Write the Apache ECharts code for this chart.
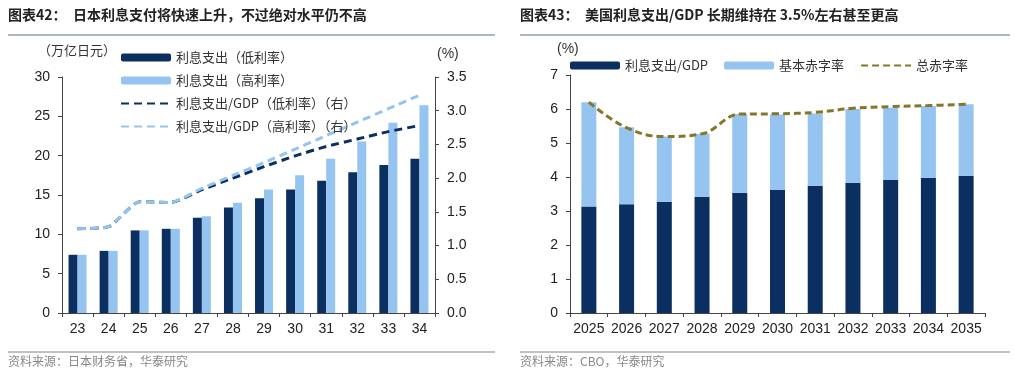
<!DOCTYPE html>
<html><head><meta charset="utf-8">
<script src="https://cdn.jsdelivr.net/npm/echarts@6/dist/echarts.min.js"></script>
<style>html,body{margin:0;padding:0;background:#fff}#c{width:1024px;height:374px}</style>
</head><body><div id="c"></div>
<script>
// Left chart data (Japan)
const jpYears = ['23','24','25','26','27','28','29','30','31','32','33','34'];
const jpLow = [7.4,7.9,10.5,10.7,12.1,13.4,14.6,15.7,16.8,17.9,18.8,19.6];
const jpHigh = [7.4,7.9,10.5,10.7,12.3,14.0,15.7,17.5,19.6,21.8,24.2,26.4];
const jpLowGdp = [1.25,1.28,1.65,1.64,1.83,2.0,2.17,2.33,2.47,2.58,2.69,2.78];
const jpHighGdp = [1.25,1.28,1.65,1.64,1.85,2.04,2.23,2.43,2.63,2.83,3.03,3.23];
// Right chart data (US)
const usYears = ['2025','2026','2027','2028','2029','2030','2031','2032','2033','2034','2035'];
const usInterest = [3.13,3.2,3.27,3.42,3.54,3.62,3.74,3.83,3.91,3.98,4.04];
const usPrimary = [3.07,2.26,1.92,1.85,2.31,2.22,2.13,2.17,2.13,2.11,2.10];
const usTotal = [6.2,5.45,5.19,5.27,5.85,5.86,5.9,6.02,6.07,6.1,6.14];

const DARK = '#0b2f60', LIGHT = '#95c4f1', OLIVE = '#86762a';
const AX = '#444', LAB = '#222';
const CJK = '"Noto Sans CJK SC", sans-serif';
const NUM = '"Liberation Sans", Arial, sans-serif';

const chart = echarts.init(document.getElementById('c'), null, {renderer:'canvas'});
const axisCommon = {
  axisLine:{show:true,lineStyle:{color:AX,width:1}},
  axisTick:{show:true,lineStyle:{color:AX},length:4},
  splitLine:{show:false}
};
const lbl = (m, extra) => Object.assign({color:LAB,fontSize:14,fontFamily:NUM,margin:m}, extra||{});
const noSym = {itemStyle:{opacity:0}};
chart.setOption({
  animation:false,
  grid:[
    {left:62,right:589,top:77,bottom:61},
    {left:570,right:39,top:75,bottom:61}
  ],
  xAxis:[
    Object.assign({type:'category',data:jpYears,gridIndex:0},axisCommon,{axisLabel:lbl(9,{interval:0})}),
    Object.assign({type:'category',data:usYears,gridIndex:1},axisCommon,{axisLabel:lbl(9,{interval:0})})
  ],
  yAxis:[
    Object.assign({type:'value',gridIndex:0,min:0,max:30,interval:5},axisCommon,{axisLabel:lbl(12)}),
    Object.assign({type:'value',gridIndex:0,position:'right',min:0,max:3.5,interval:0.5},axisCommon,{axisLabel:lbl(12,{formatter:v=>v.toFixed(1)})}),
    Object.assign({type:'value',gridIndex:1,min:0,max:7,interval:1},axisCommon,{axisLabel:lbl(12)})
  ],
  legend:[
    {left:115,top:46,orient:'vertical',itemWidth:50,itemHeight:8,itemGap:10,
     textStyle:{fontSize:13,color:'#333',fontFamily:CJK},
     data:['利息支出（低利率）','利息支出（高利率）',
       Object.assign({name:'利息支出/GDP（低利率）（右）'},noSym),
       Object.assign({name:'利息支出/GDP（高利率）（右）'},noSym)]},
    {left:565,top:54,orient:'horizontal',itemWidth:50,itemHeight:8,itemGap:16,
     textStyle:{fontSize:13,color:'#333',fontFamily:CJK},
     data:['利息支出/GDP','基本赤字率',Object.assign({name:'总赤字率'},noSym)]}
  ],
  series:[
    {name:'利息支出（低利率）',type:'bar',xAxisIndex:0,yAxisIndex:0,data:jpLow,barWidth:9,barGap:'0%',itemStyle:{color:DARK}},
    {name:'利息支出（高利率）',type:'bar',xAxisIndex:0,yAxisIndex:0,data:jpHigh,barWidth:9,barGap:'0%',itemStyle:{color:LIGHT}},
    {name:'利息支出/GDP（低利率）（右）',type:'line',xAxisIndex:0,yAxisIndex:1,data:jpLowGdp,symbol:'none',smooth:0.2,
     lineStyle:{color:DARK,width:3,type:[8,5]},itemStyle:{color:DARK}},
    {name:'利息支出/GDP（高利率）（右）',type:'line',xAxisIndex:0,yAxisIndex:1,data:jpHighGdp,symbol:'none',smooth:0.2,
     lineStyle:{color:LIGHT,width:3,type:[8,5]},itemStyle:{color:LIGHT}},
    {name:'利息支出/GDP',type:'bar',xAxisIndex:1,yAxisIndex:2,stack:'us',data:usInterest,barWidth:15,itemStyle:{color:DARK}},
    {name:'基本赤字率',type:'bar',xAxisIndex:1,yAxisIndex:2,stack:'us',data:usPrimary,barWidth:15,itemStyle:{color:LIGHT}},
    {name:'总赤字率',type:'line',xAxisIndex:1,yAxisIndex:2,data:usTotal,symbol:'none',smooth:0.4,
     lineStyle:{color:OLIVE,width:3,type:[7,4]},itemStyle:{color:OLIVE}}
  ],
  graphic:[
    {type:'text',left:8,top:8,style:{text:'图表42：  日本利息支付将快速上升，不过绝对水平仍不高',fontSize:14,fontWeight:'bold',fill:'#222',fontFamily:CJK}},
    {type:'text',left:520,top:8,style:{text:'图表43：  美国利息支出/GDP 长期维持在 3.5%左右甚至更高',fontSize:14,fontWeight:'bold',fill:'#222',fontFamily:CJK}},
    {type:'rect',shape:{x:8,y:34,width:487,height:2},style:{fill:'#aab8c6'}},
    {type:'rect',shape:{x:520,y:34,width:490,height:2},style:{fill:'#aab8c6'}},
    {type:'rect',shape:{x:8,y:351,width:487,height:2},style:{fill:'#b8c2cc'}},
    {type:'rect',shape:{x:520,y:351,width:490,height:2},style:{fill:'#b8c2cc'}},
    {type:'text',left:8,top:355,style:{text:'资料来源：日本财务省，华泰研究',fontSize:12,fill:'#888',fontFamily:CJK}},
    {type:'text',left:520,top:355,style:{text:'资料来源：CBO，华泰研究',fontSize:12,fill:'#888',fontFamily:CJK}},
    {type:'text',left:38,top:44,style:{text:'（万亿日元）',fontSize:13,fill:'#333',fontFamily:CJK}},
    {type:'text',left:437,top:47,style:{text:'(%)',fontSize:14,fill:'#333',fontFamily:NUM}},
    {type:'text',left:557,top:42,style:{text:'(%)',fontSize:14,fill:'#333',fontFamily:NUM}}
  ]
});
</script></body></html>
